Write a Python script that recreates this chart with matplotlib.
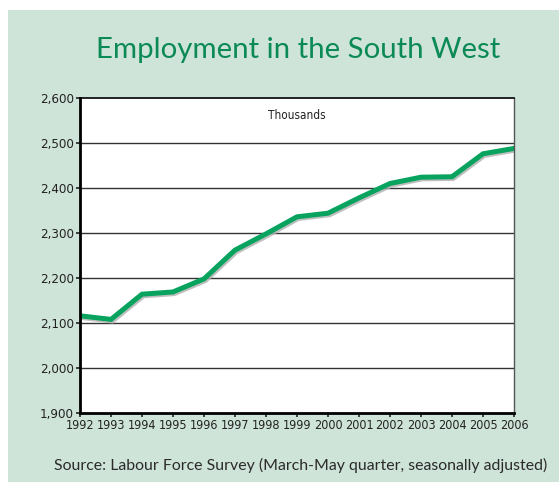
import matplotlib
matplotlib.use("Agg")
import matplotlib.pyplot as plt
import matplotlib.patheffects as pe
from matplotlib.patches import Rectangle

years = [1992, 1993, 1994, 1995, 1996, 1997, 1998, 1999, 2000, 2001, 2002, 2003, 2004, 2005, 2006]
employment = [2116, 2108, 2164, 2169, 2198, 2262, 2298, 2336, 2344, 2378, 2410, 2424, 2425, 2476, 2488]
yticks = [1900, 2000, 2100, 2200, 2300, 2400, 2500, 2600]
ytick_labels = ["1,900", "2,000", "2,100", "2,200", "2,300", "2,400", "2,500", "2,600"]

narrow = "DejaVu Sans"
stretch = "condensed"
humanist = "Lato"

bg = "#cfe4d9"
green = "#07a35f"

fig = plt.figure(figsize=(5.59, 4.82), dpi=100)
fig.patch.set_facecolor("white")
fig.patches.append(Rectangle((8 / 559, 0), 1, 1 - 10 / 482, transform=fig.transFigure,
                             facecolor=bg, edgecolor="none", zorder=-5))

ax = fig.add_axes([80 / 559, 69 / 482, 434 / 559, 315 / 482])
ax.set_zorder(2)
ax.set_facecolor("white")
ax.plot(years, employment, color=green, lw=3.6, solid_joinstyle="miter", zorder=3,
        path_effects=[pe.SimpleLineShadow(offset=(1.0, -1.2), shadow_color="#b0b0b0", alpha=0.8),
                      pe.Normal()])
ax.set_xlim(1992, 2006)
ax.set_ylim(1900, 2600)
ax.set_xticks(years)
ax.set_xticklabels([str(y) for y in years], fontfamily=narrow, fontstretch=stretch, fontsize=9, color="#222")
ax.set_yticks(yticks)
ax.set_yticklabels(ytick_labels, fontfamily=narrow, fontstretch=stretch, fontsize=9.5, color="#222")
for y in yticks[1:-1]:
    ax.axhline(y, color="#333", lw=1.0, zorder=1)
ax.spines["left"].set_linewidth(2.0)
ax.spines["bottom"].set_linewidth(2.0)
ax.spines["top"].set_linewidth(1.2)
ax.spines["right"].set_linewidth(1.0)
ax.spines["right"].set_color("#555")
for s in ax.spines.values():
    s.set_zorder(4)
ax.tick_params(axis="both", length=3, width=1.2, color="#222", pad=1.5)
ax.text(0.5, 0.945, "Thousands", transform=ax.transAxes, ha="center", va="center",
        fontfamily=narrow, fontstretch=stretch, fontsize=8.5, color="#222")

fig.text(298 / 559, 1 - 50 / 482, "Employment in the South West", ha="center", va="center",
         fontfamily=humanist, fontsize=21.2, color="#0b8a55", zorder=3)
fig.text(301 / 559, 1 - 465 / 482, "Source: Labour Force Survey (March-May quarter, seasonally adjusted)",
         ha="center", va="center", fontfamily=humanist, fontsize=11.4, color="#2a2a2a", zorder=3)

fig.savefig("out.png", dpi=100, facecolor=fig.get_facecolor())
